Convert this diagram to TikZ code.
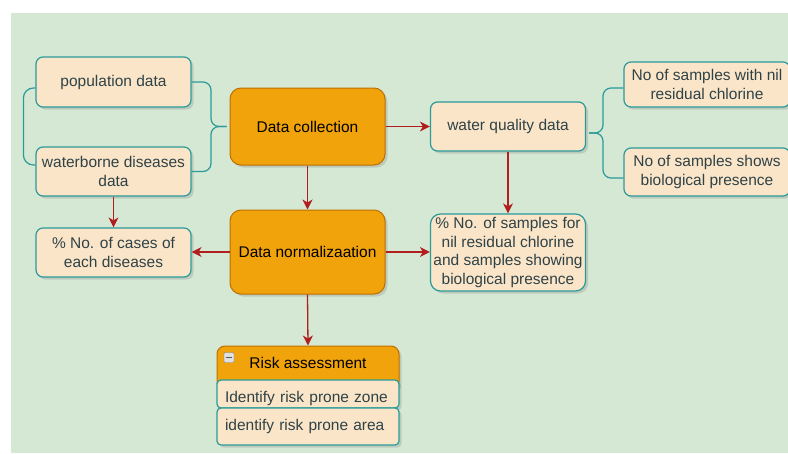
\documentclass[tikz,border=0pt]{standalone}
\usepackage{fontspec}
\setmainfont{Liberation Sans}
\usetikzlibrary{arrows.meta,shadows,calc}
\definecolor{bgc}{HTML}{D5E8D4}
\definecolor{beige}{HTML}{FAE5C9}
\definecolor{tealc}{HTML}{2A9A9A}
\definecolor{txtc}{HTML}{2F4246}
\definecolor{orangef}{HTML}{F0A30A}
\definecolor{oranged}{HTML}{BD7000}
\definecolor{redc}{HTML}{B21E1E}
\tikzset{
  base/.style={rectangle, align=center, inner sep=0pt,
    font=\fontsize{15.5}{18.5}\selectfont,
    drop shadow={opacity=0.28, shadow xshift=2.5pt, shadow yshift=-2.5pt}},
  leaf/.style={base, draw=tealc, line width=1.2pt, fill=beige, text=txtc,
    rounded corners=7pt, minimum width=155pt},
  mainbox/.style={base, draw=oranged, line width=1pt, fill=orangef, text=black,
    rounded corners=11pt, minimum width=155pt},
  riskhead/.style={base, draw=oranged, line width=1pt, fill=orangef, text=black,
    rounded corners=8pt, minimum width=182pt, minimum height=44pt},
  item/.style={base, draw=tealc, line width=1.2pt, fill=beige, text=txtc,
    rounded corners=4pt, text width=166pt, align=left, inner xsep=8pt},
  arr/.style={draw=redc, line width=1.3pt, -{Stealth[length=10pt,width=10pt,inset=3pt]}},
  brace/.style={draw=tealc, line width=1.2pt, rounded corners=8pt},
  minusbox/.style={draw=gray, fill=black!12, minimum size=10pt, inner sep=0pt, rounded corners=1pt}
}
\begin{document}
\begin{tikzpicture}[x=1pt,y=-1pt]
\useasboundingbox (0,0) rectangle (788,453);
\fill[white] (0,0) rectangle (788,453);
\fill[bgc] (11,13) rectangle (788,453);

% nodes
\node[leaf, minimum height=50pt] (pop) at (113.5,82) {population data};
\node[leaf, minimum height=49pt] (wbd) at (113.5,171.5) {waterborne diseases\\data};
\node[leaf, minimum height=49pt] (cases) at (113.5,252.5) {\% No. of cases of\\each diseases};
\node[mainbox, minimum height=77pt] (dc) at (307.5,126.5) {Data collection};
\node[mainbox, minimum height=84pt] (dn) at (307.5,252) {Data normalizaation};
\node[leaf, minimum height=49pt] (wq) at (508,126.5) {water quality data};
\node[leaf, minimum height=77pt, rounded corners=10pt] (samp) at (508,252.5) {\% No. of samples for\\nil residual chlorine\\and samples showing\\biological presence};
\node[leaf, minimum height=45pt, minimum width=166pt] (nil) at (707,84.5) {No of samples with nil\\residual chlorine};
\node[leaf, minimum height=48pt, minimum width=166pt] (bio) at (707,172) {No of samples shows\\biological presence};

% risk assessment swimlane
\node[riskhead, text height=10.5pt, text depth=9.5pt] (risk) at (308,368) {Risk assessment};
\node[item, minimum height=28pt, text height=17.4pt, text depth=0pt] (zone) at (308,394) {Identify risk prone zone};
\node[item, minimum height=37pt] (area) at (308,426.5) {identify risk prone area};
\node[minusbox] (collapse) at (229,357.5) {};
\draw[line width=1.4pt, black!65] ([xshift=-3pt]collapse.center) -- ([xshift=3pt]collapse.center);

% braces
\coordinate (dcL) at ([xshift=-3pt]dc.west);
\draw[brace] (pop.east) -| (211,126.5) -- (dcL);
\draw[brace] (wbd.east) -| (211,126.5) -- (dcL);
\draw[brace, rounded corners=10pt] ([yshift=-6pt]pop.west) -- ++(-12,0) |- ([yshift=6.5pt]wbd.west);
\coordinate (wqR) at ([xshift=3pt,yshift=-6.5pt]wq.east);
\draw[brace] (wqR) -- (603,133) |- ([yshift=-3.5pt]nil.west);
\draw[brace] (wqR) -- (603,133) |- ([yshift=-6pt]bio.west);

% arrows
\draw[arr] (dc.east) -- (wq.west);
\draw[arr] (dc.south) -- (dn.north);
\draw[arr] (dn.west) -- (cases.east |- dn.west);
\draw[arr] (dn.east) -- (samp.west |- dn.east);
\draw[arr] (dn.south) -- (risk.north);
\draw[arr] (wbd.south) -- (cases.north);
\draw[arr] (wq.south) -- (samp.north);
\end{tikzpicture}
\end{document}
